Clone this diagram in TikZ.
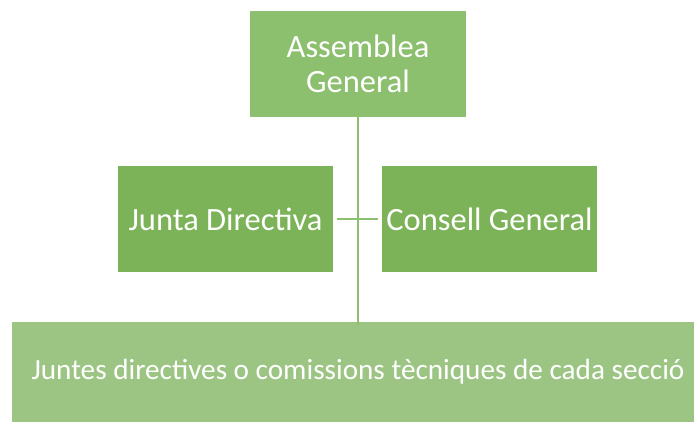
\documentclass[tikz,border=0pt]{standalone}
\usepackage{fontspec}
\setmainfont{Carlito}
\definecolor{gA}{HTML}{8CBF6E}
\definecolor{gB}{HTML}{7CB358}
\definecolor{gC}{HTML}{9CC584}
\definecolor{ln}{HTML}{8CBF6E}
\begin{document}
\begin{tikzpicture}[x=1pt,y=-1pt,
  box/.style={draw=none,inner sep=0pt,text=white,font=\fontsize{32.5}{35}\selectfont,align=center},
  conn/.style={draw=ln,line width=2pt}]
\useasboundingbox (0,0) rectangle (694,421);
\node[box,fill=gA,minimum width=216pt,minimum height=106pt] (a) at (358,64) {Assemblea\\General};
\node[box,fill=gB,minimum width=215pt,minimum height=106pt] (j) at (225.5,219) {Junta Directiva};
\node[box,fill=gB,minimum width=215pt,minimum height=106pt] (c) at (489.5,219) {Consell General};
\node[box,fill=gC,minimum width=682pt,minimum height=100pt,font=\fontsize{29.2}{35}\selectfont] (b) at (353,371.5) {\hspace*{10pt}Juntes directives o comissions tècniques de cada secció};
\draw[conn] (a.south) -- ([yshift=-4pt]a.south |- b.north);
\draw[conn] ([xshift=4pt]j.east) -- ([xshift=-4pt]c.west);
\end{tikzpicture}
\end{document}
